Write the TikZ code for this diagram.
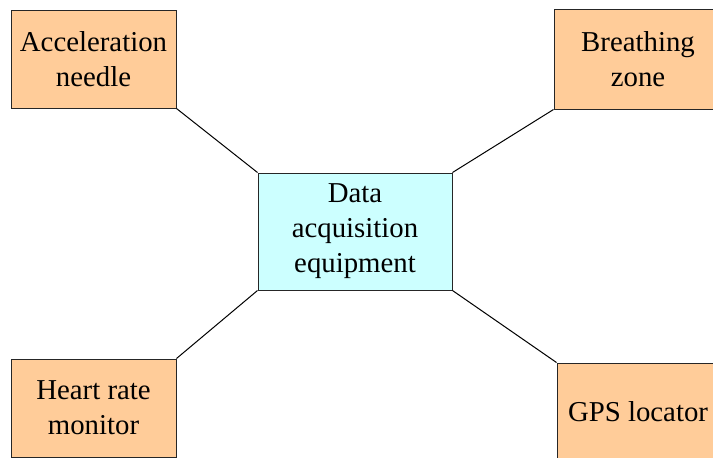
\documentclass[tikz,border=0pt]{standalone}
\usepackage{fontspec}
\setmainfont{Liberation Serif}
\definecolor{peach}{HTML}{FFCC99}
\definecolor{palecyan}{HTML}{CCFFFF}

\begin{document}
\begin{tikzpicture}[x=0.5pt, y=-0.5pt,
  sensor/.style={draw=black!85, line width=0.5pt, fill=peach, align=center,
    inner sep=0pt, font=\fontsize{14.4}{17.5}\selectfont},
  hub/.style={sensor, fill=palecyan},
  link/.style={line width=0.5pt, black}]

% canvas
\useasboundingbox (0,0) rectangle (713,457);
\clip (0,0) rectangle (713,457);

% Centre box
\node[hub, minimum width=97pt, minimum height=58.5pt] (daq) at (355,231.5)
  {Data\\acquisition\\equipment};

% Sensor boxes
\node[sensor, minimum width=82.5pt, minimum height=49pt] (accel) at (93.5,59)
  {Acceleration\\needle};
\node[sensor, minimum width=84pt, minimum height=50pt] (breath) at (638,59)
  {Breathing\\zone};
\node[sensor, minimum width=82.5pt, minimum height=49pt] (heart) at (93.5,408)
  {Heart rate\\monitor};
\node[sensor, minimum width=81pt, minimum height=49pt] (gps) at (638,412)
  {GPS locator};

% Links
\draw[link] (accel.south east) -- (daq.north west);
\draw[link] (breath.south west) -- (daq.north east);
\draw[link] (daq.south west) -- (heart.north east);
\draw[link] (daq.south east) -- (gps.north west);

\end{tikzpicture}
\end{document}
